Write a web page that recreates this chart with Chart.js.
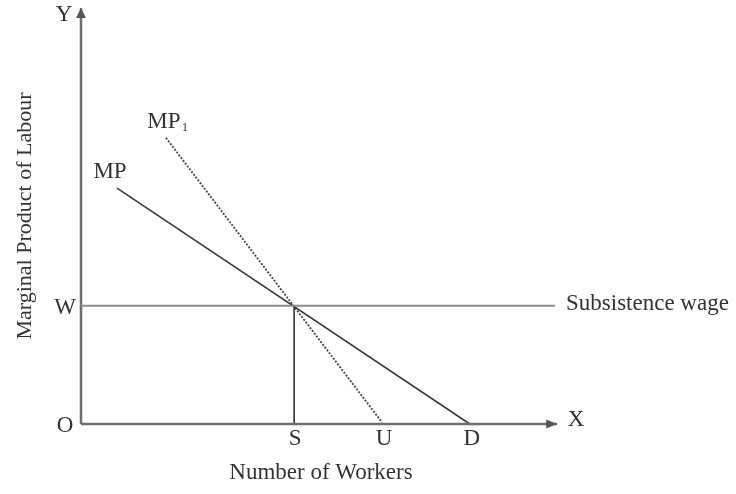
<!DOCTYPE html>
<html>
<head>
<meta charset="utf-8">
<script src="https://cdn.jsdelivr.net/npm/chart.js@4/dist/chart.umd.min.js"></script>
<style>
  html, body { margin: 0; padding: 0; background: #ffffff; }
  #wrap { width: 736px; height: 494px; }
</style>
</head>
<body>
<div id="wrap"><canvas id="c" width="736" height="494"></canvas></div>
<script>
// ---- data (abstract units) ----
const xTickLabels = ['S', 'U', 'D'];
const xTickValues = [4.44, 6.27, 8.10];
const yTickLabels = ['O', 'W'];
const yTickValues = [0, 2.84];

const mpX = [0.75, 8.10];
const mpY = [5.67, 0];
const mp1X = [1.77, 6.27];
const mp1Y = [6.88, 0.04];
const wageX = [0, 9.875];
const wageY = [2.84, 2.84];
const sLineX = [4.44, 4.44];
const sLineY = [0, 2.84];
const xAxisX = [0, 9.92];
const xAxisY = [0, 0];
const yAxisX = [0, 0];
const yAxisY = [0, 10];

const seriesLabels = ['MP', 'MP', 'Subsistence wage'];

function pts(xs, ys) { return xs.map((x, i) => ({ x: x, y: ys[i] })); }

const FONT = '"Liberation Serif", "Times New Roman", serif';
const TXT = '#333333';

const labelPlugin = {
  id: 'labels',
  afterDatasetsDraw(chart) {
    const ctx = chart.ctx;
    const xs = chart.scales.x, ys = chart.scales.y;
    const px = v => xs.getPixelForValue(v);
    const py = v => ys.getPixelForValue(v);
    ctx.save();
    // arrow heads
    ctx.fillStyle = '#555555';
    const xt = px(xAxisX[1]), yb = py(0);
    ctx.beginPath();
    ctx.moveTo(xt, yb);
    ctx.lineTo(xt - 11, yb - 4.5);
    ctx.lineTo(xt - 11, yb + 4.5);
    ctx.closePath();
    ctx.fill();
    const yt = py(yAxisY[1]), xl = px(0);
    ctx.beginPath();
    ctx.moveTo(xl, yt);
    ctx.lineTo(xl - 5, yt + 10);
    ctx.lineTo(xl + 5, yt + 10);
    ctx.closePath();
    ctx.fill();

    ctx.fillStyle = TXT;
    ctx.font = '23px ' + FONT;
    ctx.textAlign = 'center';
    ctx.textBaseline = 'middle';
    // x ticks
    xTickLabels.forEach((t, i) => ctx.fillText(t, px(xTickValues[i]) + (i === 0 ? 1 : 2), yb + 15));
    // y ticks
    yTickLabels.forEach((t, i) => ctx.fillText(t, xl - 16, py(yTickValues[i]) + 2));
    // axis letters
    ctx.fillText('Y', xl - 17, yt + 7);
    ctx.fillText('X', xt + 19, yb - 4);
    // subsistence wage
    ctx.textAlign = 'left';
    ctx.fillText(seriesLabels[2], px(wageX[1]) + 11, py(wageY[1]) - 2);
    // MP label
    ctx.textAlign = 'center';
    ctx.fillText(seriesLabels[0], px(mpX[0]) - 7, py(mpY[0]) - 16);
    // MP1 label
    const mx = px(mp1X[0]) - 2, my = py(mp1Y[0]) - 16;
    ctx.fillText(seriesLabels[1], mx, my);
    ctx.font = '12px ' + FONT;
    ctx.textAlign = 'left';
    ctx.fillText('1', mx + 18, my + 6);
    ctx.restore();
  }
};

const lineDs = (data, color, width, dash) => ({
  data: data,
  showLine: true,
  borderColor: color,
  borderWidth: width,
  borderDash: dash || [],
  pointRadius: 0,
  pointHoverRadius: 0,
  fill: false,
  clip: false
});

new Chart(document.getElementById('c'), {
  type: 'scatter',
  data: {
    datasets: [
      lineDs(pts(wageX, wageY), '#8c8c8c', 2),
      lineDs(pts(xAxisX, xAxisY), '#6e6e6e', 2.5),
      lineDs(pts(yAxisX, yAxisY), '#6e6e6e', 2.5),
      lineDs(pts(sLineX, sLineY), '#333333', 1.6),
      lineDs(pts(mpX, mpY), '#3a3a3a', 1.6),
      lineDs(pts(mp1X, mp1Y), '#444444', 1.8, [2, 1.5])
    ]
  },
  options: {
    responsive: false,
    animation: false,
    events: [],
    layout: { padding: { top: 8, right: 175, left: 0, bottom: 0 } },
    plugins: { legend: { display: false }, tooltip: { enabled: false } },
    scales: {
      x: {
        type: 'linear', min: 0, max: 10,
        grid: { display: false }, border: { display: false },
        ticks: { display: false },
        title: { display: true, text: 'Number of Workers', color: TXT,
                 font: { family: FONT, size: 23 }, padding: { top: 0, bottom: 7 } },
        afterFit: s => { s.height = 70; }
      },
      y: {
        type: 'linear', min: 0, max: 10,
        grid: { display: false }, border: { display: false },
        ticks: { display: false },
        title: { display: true, text: 'Marginal Product of Labour', color: TXT,
                 font: { family: FONT, size: 22 }, padding: { top: 12, bottom: 0 } },
        afterFit: s => { s.width = 81; }
      }
    }
  },
  plugins: [labelPlugin]
});
</script>
</body>
</html>
